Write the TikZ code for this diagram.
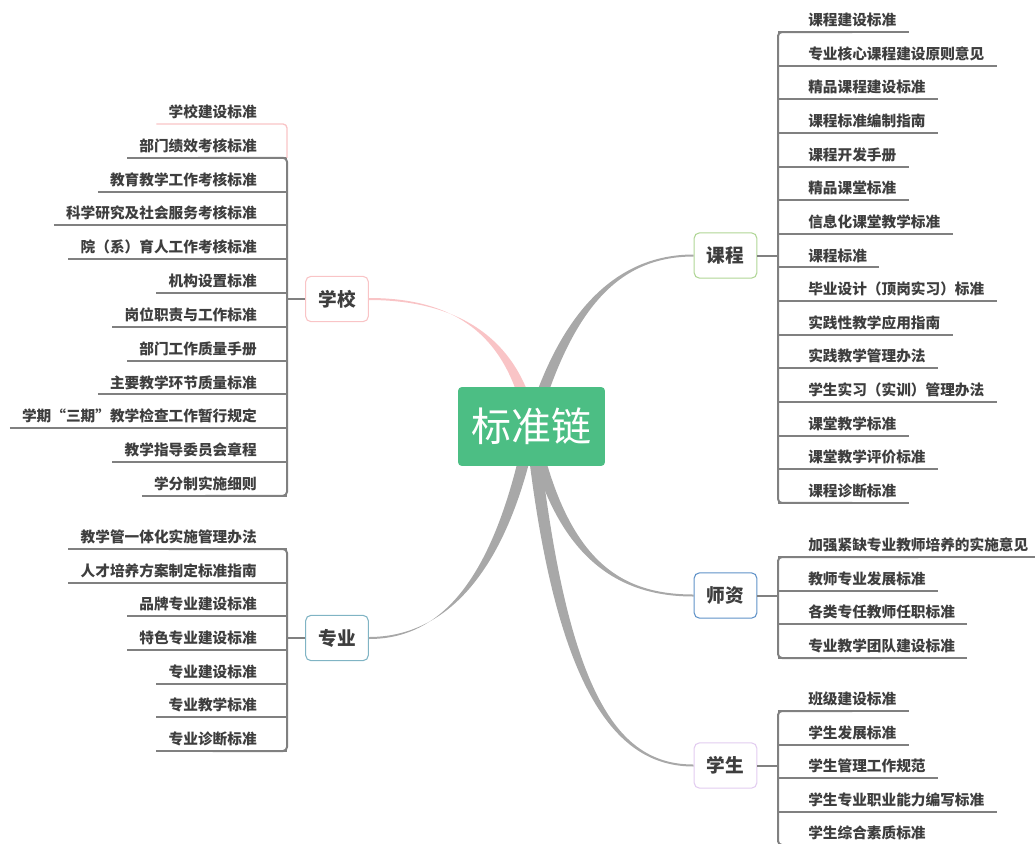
\documentclass[tikz,border=0pt]{standalone}
\usepackage{fontspec}
\setmainfont{Noto Sans CJK SC}
\usepackage{tikz}
\usetikzlibrary{calc,positioning,backgrounds}
\definecolor{leafgray}{RGB}{128,128,128}
\definecolor{branchgray}{RGB}{168,168,168}
\definecolor{textgray}{RGB}{62,62,62}
\definecolor{rootgreen}{RGB}{76,190,132}
\definecolor{schoolpink}{RGB}{249,196,198}
\definecolor{coursegreen}{RGB}{176,214,150}
\definecolor{teacherblue}{RGB}{96,146,200}
\definecolor{studentlilac}{RGB}{226,204,240}
\definecolor{majorteal}{RGB}{128,180,196}
\tikzstyle{root node}=[rectangle,rounded corners=2.5pt,fill=rootgreen,text=white,minimum width=110pt,minimum height=59pt,font=\fontsize{30}{36}\selectfont]
\tikzstyle{topic node}=[rectangle,rounded corners=4pt,fill=white,line width=0.8pt,minimum width=47pt,minimum height=34pt,text=textgray,font=\fontsize{14}{17}\selectfont\bfseries]
\tikzstyle{leaf node}=[inner xsep=9pt,inner ysep=3.5pt,text=textgray,font=\fontsize{11}{13}\selectfont\bfseries]
\tikzstyle{leaf line}=[leafgray,line width=1.5pt]

\begin{document}
\begin{tikzpicture}[x=0.75pt,y=-0.75pt]
		\useasboundingbox (0,0) rectangle (1035,843);
		\clip (0,0) rectangle (1035,843);

		\node(zhun)[root node] at (531.5,426.5){标准链};
		\node(xuexiao)[topic node,draw=schoolpink] at (337,299){学校};
		\node(zhuanye)[topic node,draw=majorteal] at (337,638){专业};
		\node(kecheng)[topic node,draw=coursegreen] at (725.5,255.5){课程};
		\node(shizi)[topic node,draw=teacherblue] at (725.5,595.5){师资};
		\node(xuesheng)[topic node,draw=studentlilac] at (725.5,765.5){学生};
		\coordinate(lbar) at (287,0);
		\coordinate(rbar) at (778,0);

		% tapered branches from the root
		\begin{pgfonlayer}{background}
		\fill[schoolpink] ([xshift=-4.5pt]zhun.center) .. controls +(-16,-86) and +(92,0) .. ([yshift=0.75pt]xuexiao.east)
		    -- ([yshift=-0.75pt]xuexiao.east) .. controls +(92,0) and +(-16,-86) .. ([xshift=4.5pt]zhun.center) -- cycle;
		\fill[branchgray] ([xshift=-4.5pt]zhun.center) .. controls +(-31,154) and +(72,0) .. ([yshift=-0.75pt]zhuanye.east)
		    -- ([yshift=0.75pt]zhuanye.east) .. controls +(72,0) and +(-31,154) .. ([xshift=4.5pt]zhun.center) -- cycle;
		\fill[branchgray] ([xshift=-4.5pt]zhun.center) .. controls +(35,-120) and +(-74,0) .. ([yshift=0.75pt]kecheng.west)
		    -- ([yshift=-0.75pt]kecheng.west) .. controls +(-74,0) and +(35,-120) .. ([xshift=4.5pt]zhun.center) -- cycle;
		\fill[branchgray] ([xshift=-4.5pt]zhun.center) .. controls +(29,134) and +(-74,0) .. ([yshift=-0.75pt]shizi.west)
		    -- ([yshift=0.75pt]shizi.west) .. controls +(-74,0) and +(29,134) .. ([xshift=4.5pt]zhun.center) -- cycle;
		\fill[branchgray] ([xshift=-4.5pt]zhun.center) .. controls +(29,274) and +(-74,0) .. ([yshift=-0.75pt]xuesheng.west)
		    -- ([yshift=0.75pt]xuesheng.west) .. controls +(-74,0) and +(29,274) .. ([xshift=4.5pt]zhun.center) -- cycle;
		\end{pgfonlayer}

		% 学校
		\foreach \t [count=\i] in {学校建设标准,部门绩效考核标准,教育教学工作考核标准,科学研究及社会服务考核标准,院（系）育人工作考核标准,机构设置标准,岗位职责与工作标准,部门工作质量手册,主要教学环节质量标准,学期“三期”教学检查工作暂行规定,教学指导委员会章程,学分制实施细则}
		    \node(xx\i)[leaf node,anchor=south east] at (269,{124+33.8*(\i-1)}){\t};
		\foreach \i in {2,...,12} \draw[leaf line] (xx\i.south west) -- (xx\i.south -| lbar);
		\draw[schoolpink,line width=1pt,rounded corners=3pt] (xx1.south west) -- (xx1.south -| lbar) -- (xx2.south -| lbar);
		\draw[leaf line,rounded corners=3pt] (xx2.south) -- (xx2.south -| lbar) -- (xx12.south -| lbar) -- (xx12.south);
		\draw[leaf line] (xuexiao.west) -- (xuexiao.west -| lbar);

		% 专业
		\foreach \t [count=\i] in {教学管一体化实施管理办法,人才培养方案制定标准指南,品牌专业建设标准,特色专业建设标准,专业建设标准,专业教学标准,专业诊断标准}
		    \node(zy\i)[leaf node,anchor=south east] at (269,{549+33.67*(\i-1)}){\t};
		\foreach \i in {1,...,7} \draw[leaf line] (zy\i.south west) -- (zy\i.south -| lbar);
		\draw[leaf line,rounded corners=3pt] (zy1.south) -- (zy1.south -| lbar) -- (zy7.south -| lbar) -- (zy7.south);
		\draw[leaf line] (zhuanye.west) -- (zhuanye.west -| lbar);

		% 课程
		\foreach \t [count=\i] in {课程建设标准,专业核心课程建设原则意见,精品课程建设标准,课程标准编制指南,课程开发手册,精品课堂标准,信息化课堂教学标准,课程标准,毕业设计（顶岗实习）标准,实践性教学应用指南,实践教学管理办法,学生实习（实训）管理办法,课堂教学标准,课堂教学评价标准,课程诊断标准}
		    \node(kc\i)[leaf node,anchor=south west] at (796,{32+33.64*(\i-1)}){\t};
		\foreach \i in {1,...,15} \draw[leaf line] (kc\i.south east) -- (kc\i.south -| rbar);
		\draw[leaf line,rounded corners=3pt] (kc1.south) -- (kc1.south -| rbar) -- (kc15.south -| rbar) -- (kc15.south);
		\draw[leaf line] (kecheng.east) -- (kecheng.east -| rbar);

		% 师资
		\foreach \t [count=\i] in {加强紧缺专业教师培养的实施意见,教师专业发展标准,各类专任教师任职标准,专业教学团队建设标准}
		    \node(sz\i)[leaf node,anchor=south west] at (796,{557+33.67*(\i-1)}){\t};
		\foreach \i in {1,...,4} \draw[leaf line] (sz\i.south east) -- (sz\i.south -| rbar);
		\draw[leaf line,rounded corners=3pt] (sz1.south) -- (sz1.south -| rbar) -- (sz4.south -| rbar) -- (sz4.south);
		\draw[leaf line] (shizi.east) -- (shizi.east -| rbar);

		% 学生
		\foreach \t [count=\i] in {班级建设标准,学生发展标准,学生管理工作规范,学生专业职业能力编写标准,学生综合素质标准}
		    \node(xs\i)[leaf node,anchor=south west] at (796,{711+33.5*(\i-1)}){\t};
		\foreach \i in {1,...,5} \draw[leaf line] (xs\i.south east) -- (xs\i.south -| rbar);
		\draw[leaf line,rounded corners=3pt] (xs1.south) -- (xs1.south -| rbar) -- (xs5.south -| rbar) -- (xs5.south);
		\draw[leaf line] (xuesheng.east) -- (xuesheng.east -| rbar);

\end{tikzpicture}
\end{document}
